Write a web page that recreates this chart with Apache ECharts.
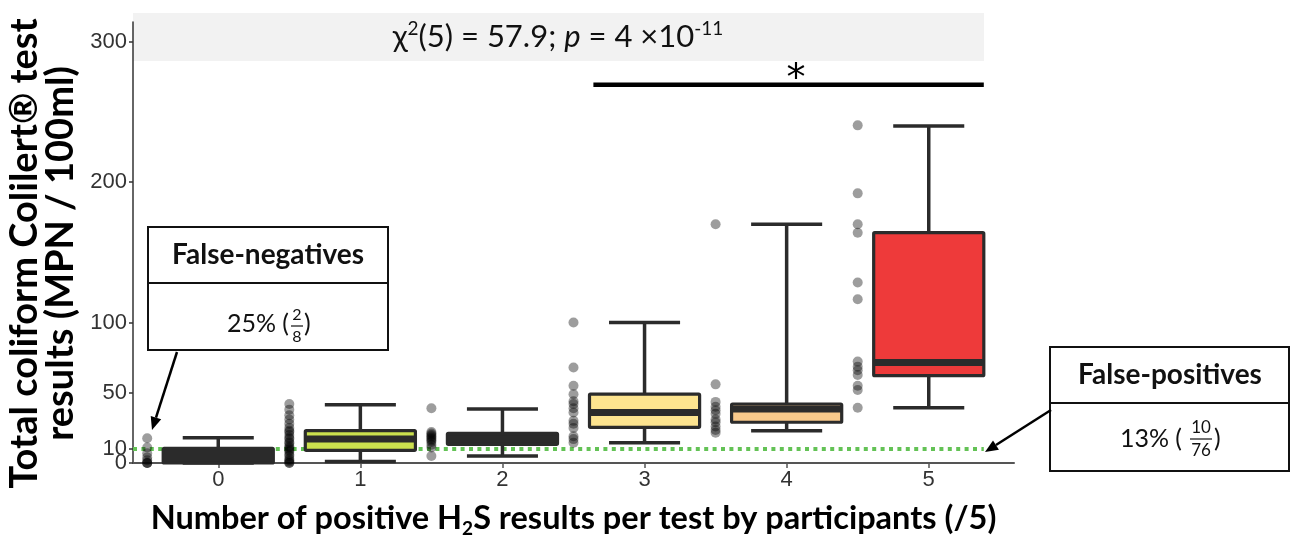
<!DOCTYPE html>
<html><head><meta charset="utf-8">
<script src="https://cdn.jsdelivr.net/npm/echarts@6/dist/echarts.min.js"></script>
<style>html,body{margin:0;padding:0;background:#fff}#c{width:1290px;height:536px}</style>
</head><body><div id="c"></div>
<script>
// ---- data ----
const categories = ['0', '1', '2', '3', '4', '5'];
const boxMin    = [0,    1,    5,    14.5, 23,   39.4];
const boxQ1     = [0,    9,    13.3, 25.4, 29,   62.2];
const boxMedian = [4,    17,   17,   36,   38.5, 71.5];
const boxQ3     = [10.5, 23,   21.1, 49,   42,   164];
const boxMax    = [18,   41.5, 38.5, 100,  170,  240];
const points0 = [0, 0, 0, 2, 4, 7, 11, 17.6];
const points1 = [0, 0, 1, 2, 3, 5, 6, 8, 9, 10, 11, 12, 14, 15, 17, 18, 20, 22, 23, 25, 28, 31, 34, 38, 42];
const points2 = [5, 11, 13, 15, 16, 17, 18, 19, 20, 21, 22, 39];
const points3 = [14.5, 17, 19, 25, 28, 30, 36, 39, 42, 44, 49, 55, 68, 100];
const points4 = [21.5, 23.5, 26, 29, 31, 35, 37.5, 40, 43.5, 56, 170];
const points5 = [39.4, 52, 55, 62.7, 66, 68.6, 72.2, 116.6, 128.5, 164, 170, 192, 240.4];
const yTicks = [0, 50, 100, 200, 300];
const yTicksExtra = [10];   // drawn on an overlaid axis so it is not hidden by overlap with 0
const threshold = 10;
const boxColors = ['#2b2b2b', '#cbe04e', '#2b2b2b', '#fde48f', '#f8c98b', '#ee3a3a'];

const allPoints = [points0, points1, points2, points3, points4, points5];
const boxData = categories.map((c, i) => [i, boxMin[i], boxQ1[i], boxMedian[i], boxQ3[i], boxMax[i]]);
const scatterData = [];
allPoints.forEach((arr, i) => arr.forEach(v => scatterData.push([i - 0.5, v])));

const DARK = '#2b2b2b';
const FONT = 'Lato, "Noto Sans", sans-serif';
const TICKFONT = '"Liberation Sans", Arial, sans-serif';
const BOX_FRAC = 0.775, CAP_FRAC = 0.5;
const Y_MAX = 314;

const chart = echarts.init(document.getElementById('c'), null, {renderer: 'canvas'});

function renderBox(params, api) {
  const x = api.value(0);
  const pMin = api.coord([x, api.value(1)]);
  const pQ1 = api.coord([x, api.value(2)]);
  const pMed = api.coord([x, api.value(3)]);
  const pQ3 = api.coord([x, api.value(4)]);
  const pMax = api.coord([x, api.value(5)]);
  const unit = api.size([1, 0])[0];
  const bw = unit * BOX_FRAC, cw = unit * CAP_FRAC;
  const cx = pMin[0];
  const ls = {stroke: DARK, lineWidth: 3.5};
  return {
    type: 'group',
    children: [
      {type: 'line', shape: {x1: cx, y1: pQ3[1], x2: cx, y2: pMax[1]}, style: ls},
      {type: 'line', shape: {x1: cx, y1: pQ1[1], x2: cx, y2: pMin[1]}, style: ls},
      {type: 'line', shape: {x1: cx - cw / 2, y1: pMax[1], x2: cx + cw / 2, y2: pMax[1]}, style: ls},
      {type: 'line', shape: {x1: cx - cw / 2, y1: pMin[1], x2: cx + cw / 2, y2: pMin[1]}, style: ls},
      {type: 'rect', shape: {x: cx - bw / 2, y: pQ3[1], width: bw, height: pQ1[1] - pQ3[1], r: 1},
       style: {fill: boxColors[params.dataIndex], stroke: DARK, lineWidth: 3.2}},
      {type: 'line', shape: {x1: cx - bw / 2, y1: pMed[1], x2: cx + bw / 2, y2: pMed[1]},
       style: {stroke: DARK, lineWidth: 7}}
    ]
  };
}

function arrow(x1, y1, x2, y2) {
  const ang = Math.atan2(y2 - y1, x2 - x1);
  const L = 13, W = 5.5;
  const bx = x2 - L * Math.cos(ang), by = y2 - L * Math.sin(ang);
  const px = -Math.sin(ang) * W, py = Math.cos(ang) * W;
  return [
    {type: 'line', shape: {x1, y1, x2: bx, y2: by}, style: {stroke: '#000', lineWidth: 2.5}, z: 20},
    {type: 'polygon', shape: {points: [[x2, y2], [bx + px, by + py], [bx - px, by - py]]}, style: {fill: '#000'}, z: 20}
  ];
}

const option = {
  animation: false,
  backgroundColor: '#fff',
  grid: {left: 133, right: 276, top: 22, bottom: 73, containLabel: false, outerBoundsMode: 'none'},
  xAxis: {
    type: 'value', min: -0.6, max: 5.6,
    splitLine: {show: false},
    axisLine: {show: true, onZero: false, lineStyle: {color: '#555', width: 2}},
    axisTick: {show: true, customValues: [0, 1, 2, 3, 4, 5], length: 5, lineStyle: {color: '#555', width: 1.5}},
    axisLabel: {customValues: [0, 1, 2, 3, 4, 5], formatter: v => categories[Math.round(v)],
      fontFamily: TICKFONT, fontSize: 22, color: '#333', margin: 6},
    name: '{n|Number of positive H}{sub|2}{n|S results per test by participants (/5)}',
    nameLocation: 'middle', nameGap: 37,
    nameTextStyle: {
      rich: {
        n: {fontFamily: FONT, fontWeight: 'bold', fontSize: 32.5, color: '#000', lineHeight: 38, verticalAlign: 'middle'},
        sub: {fontFamily: FONT, fontWeight: 'bold', fontSize: 19, color: '#000', lineHeight: 38, verticalAlign: 'bottom'}
      }
    }
  },
  yAxis: [{
    type: 'value', min: 0, max: Y_MAX,
    splitLine: {show: false},
    axisLine: {show: true, onZero: false, lineStyle: {color: '#333', width: 1.5}},
    axisTick: {show: true, customValues: yTicks, length: 4, lineStyle: {color: '#333', width: 1.5}},
    axisLabel: {customValues: yTicks, showMinLabel: true, hideOverlap: false,
      fontFamily: TICKFONT, fontSize: 22, color: '#333', margin: 6},
    name: 'Total coliform Colilert® test\nresults (MPN / 100ml)',
    nameLocation: 'middle', nameGap: 44,
    nameTextStyle: {fontFamily: FONT, fontWeight: 'bold', fontSize: 38, lineHeight: 36, color: '#000', padding: [0, 22, 0, 0]}
  }, {
    type: 'value', min: 0, max: Y_MAX, position: 'left',
    splitLine: {show: false},
    axisLine: {show: false, onZero: false},
    axisTick: {show: true, customValues: yTicksExtra, length: 4, lineStyle: {color: '#333', width: 1.5}},
    axisLabel: {customValues: yTicksExtra, showMinLabel: true,
      fontFamily: TICKFONT, fontSize: 22, color: '#333', margin: 6}
  }],
  series: [
    {
      type: 'line', name: 'threshold', silent: true, symbol: 'none', z: 1,
      data: [[-0.6, threshold], [5 + BOX_FRAC / 2, threshold]],
      lineStyle: {color: '#63c255', width: 4, type: [4, 4.4]}
    },
    {
      type: 'custom', name: 'box', renderItem: renderBox, data: boxData, z: 3,
      encode: {x: 0, y: [1, 2, 3, 4, 5]}
    },
    {
      type: 'scatter', name: 'points', data: scatterData, symbolSize: 10, z: 4,
      itemStyle: {color: 'rgba(0,0,0,0.48)'}
    },
    {
      type: 'line', name: 'significance', silent: true, symbol: 'none', z: 5,
      data: [[2.64, 269.4], [5 + BOX_FRAC / 2, 269.4]],
      lineStyle: {color: '#000', width: 4.5}
    }
  ],
  graphic: [
    {type: 'rect', shape: {x: 133, y: 13, width: 851, height: 48}, style: {fill: '#f2f2f2'}, z: -10, silent: true},
    {type: 'text', x: 558, y: 37, z: 10, style: {
      text: '{t|χ}{s|2}{t|(5) = 57.9; }{i|p}{t| = 4 ×10}{s|-11}',
      align: 'center', verticalAlign: 'middle',
      rich: {
        t: {fontFamily: FONT, fontSize: 31, fill: '#111', lineHeight: 36, verticalAlign: 'middle'},
        i: {fontFamily: FONT, fontSize: 31, fill: '#111', fontStyle: 'italic', lineHeight: 36, verticalAlign: 'middle'},
        s: {fontFamily: FONT, fontSize: 19, fill: '#111', lineHeight: 36, verticalAlign: 'top'}
      }
    }},
    {type: 'text', x: 796, y: 80, z: 10, style: {text: '*', fontFamily: '"DejaVu Sans", sans-serif', fontSize: 38, fill: '#000', align: 'center', verticalAlign: 'middle'}},
    // False-negatives box
    {type: 'rect', shape: {x: 148, y: 227, width: 240, height: 123}, style: {fill: '#fff', stroke: '#111', lineWidth: 2}, z: 15},
    {type: 'line', shape: {x1: 148, y1: 283, x2: 388, y2: 283}, style: {stroke: '#111', lineWidth: 2}, z: 16},
    {type: 'text', x: 268, y: 255, z: 16, style: {text: 'False-negatives', fontFamily: FONT, fontWeight: 'bold', fontSize: 28, fill: '#111', align: 'center', verticalAlign: 'middle'}},
    {type: 'text', x: 289, y: 324, z: 16, style: {text: '25% (', fontFamily: FONT, fontSize: 25, fill: '#111', align: 'right', verticalAlign: 'middle'}},
    {type: 'text', x: 297, y: 315, z: 16, style: {text: '2', fontFamily: FONT, fontSize: 16, fill: '#111', align: 'center', verticalAlign: 'middle'}},
    {type: 'line', shape: {x1: 291, y1: 326, x2: 303, y2: 326}, style: {stroke: '#111', lineWidth: 1.2}, z: 16},
    {type: 'text', x: 297, y: 337, z: 16, style: {text: '8', fontFamily: FONT, fontSize: 16, fill: '#111', align: 'center', verticalAlign: 'middle'}},
    {type: 'text', x: 304, y: 324, z: 16, style: {text: ')', fontFamily: FONT, fontSize: 25, fill: '#111', align: 'left', verticalAlign: 'middle'}},
    ...arrow(177, 352, 152, 430),
    // False-positives box
    {type: 'rect', shape: {x: 1050, y: 347, width: 239, height: 124}, style: {fill: '#fff', stroke: '#111', lineWidth: 2}, z: 15},
    {type: 'line', shape: {x1: 1050, y1: 403, x2: 1289, y2: 403}, style: {stroke: '#111', lineWidth: 2}, z: 16},
    {type: 'text', x: 1170, y: 375, z: 16, style: {text: 'False-positives', fontFamily: FONT, fontWeight: 'bold', fontSize: 28, fill: '#111', align: 'center', verticalAlign: 'middle'}},
    {type: 'text', x: 1182, y: 439, z: 16, style: {text: '13% (', fontFamily: FONT, fontSize: 25, fill: '#111', align: 'right', verticalAlign: 'middle'}},
    {type: 'text', x: 1201, y: 428, z: 16, style: {text: '10', fontFamily: FONT, fontSize: 17, fill: '#111', align: 'center', verticalAlign: 'middle'}},
    {type: 'line', shape: {x1: 1190, y1: 439, x2: 1212, y2: 439}, style: {stroke: '#111', lineWidth: 1.2}, z: 16},
    {type: 'text', x: 1201, y: 451, z: 16, style: {text: '76', fontFamily: FONT, fontSize: 17, fill: '#111', align: 'center', verticalAlign: 'middle'}},
    {type: 'text', x: 1214, y: 439, z: 16, style: {text: ')', fontFamily: FONT, fontSize: 25, fill: '#111', align: 'left', verticalAlign: 'middle'}},
    ...arrow(1051, 410, 985, 452)
  ]
};
chart.setOption(option);
</script>
</body></html>
